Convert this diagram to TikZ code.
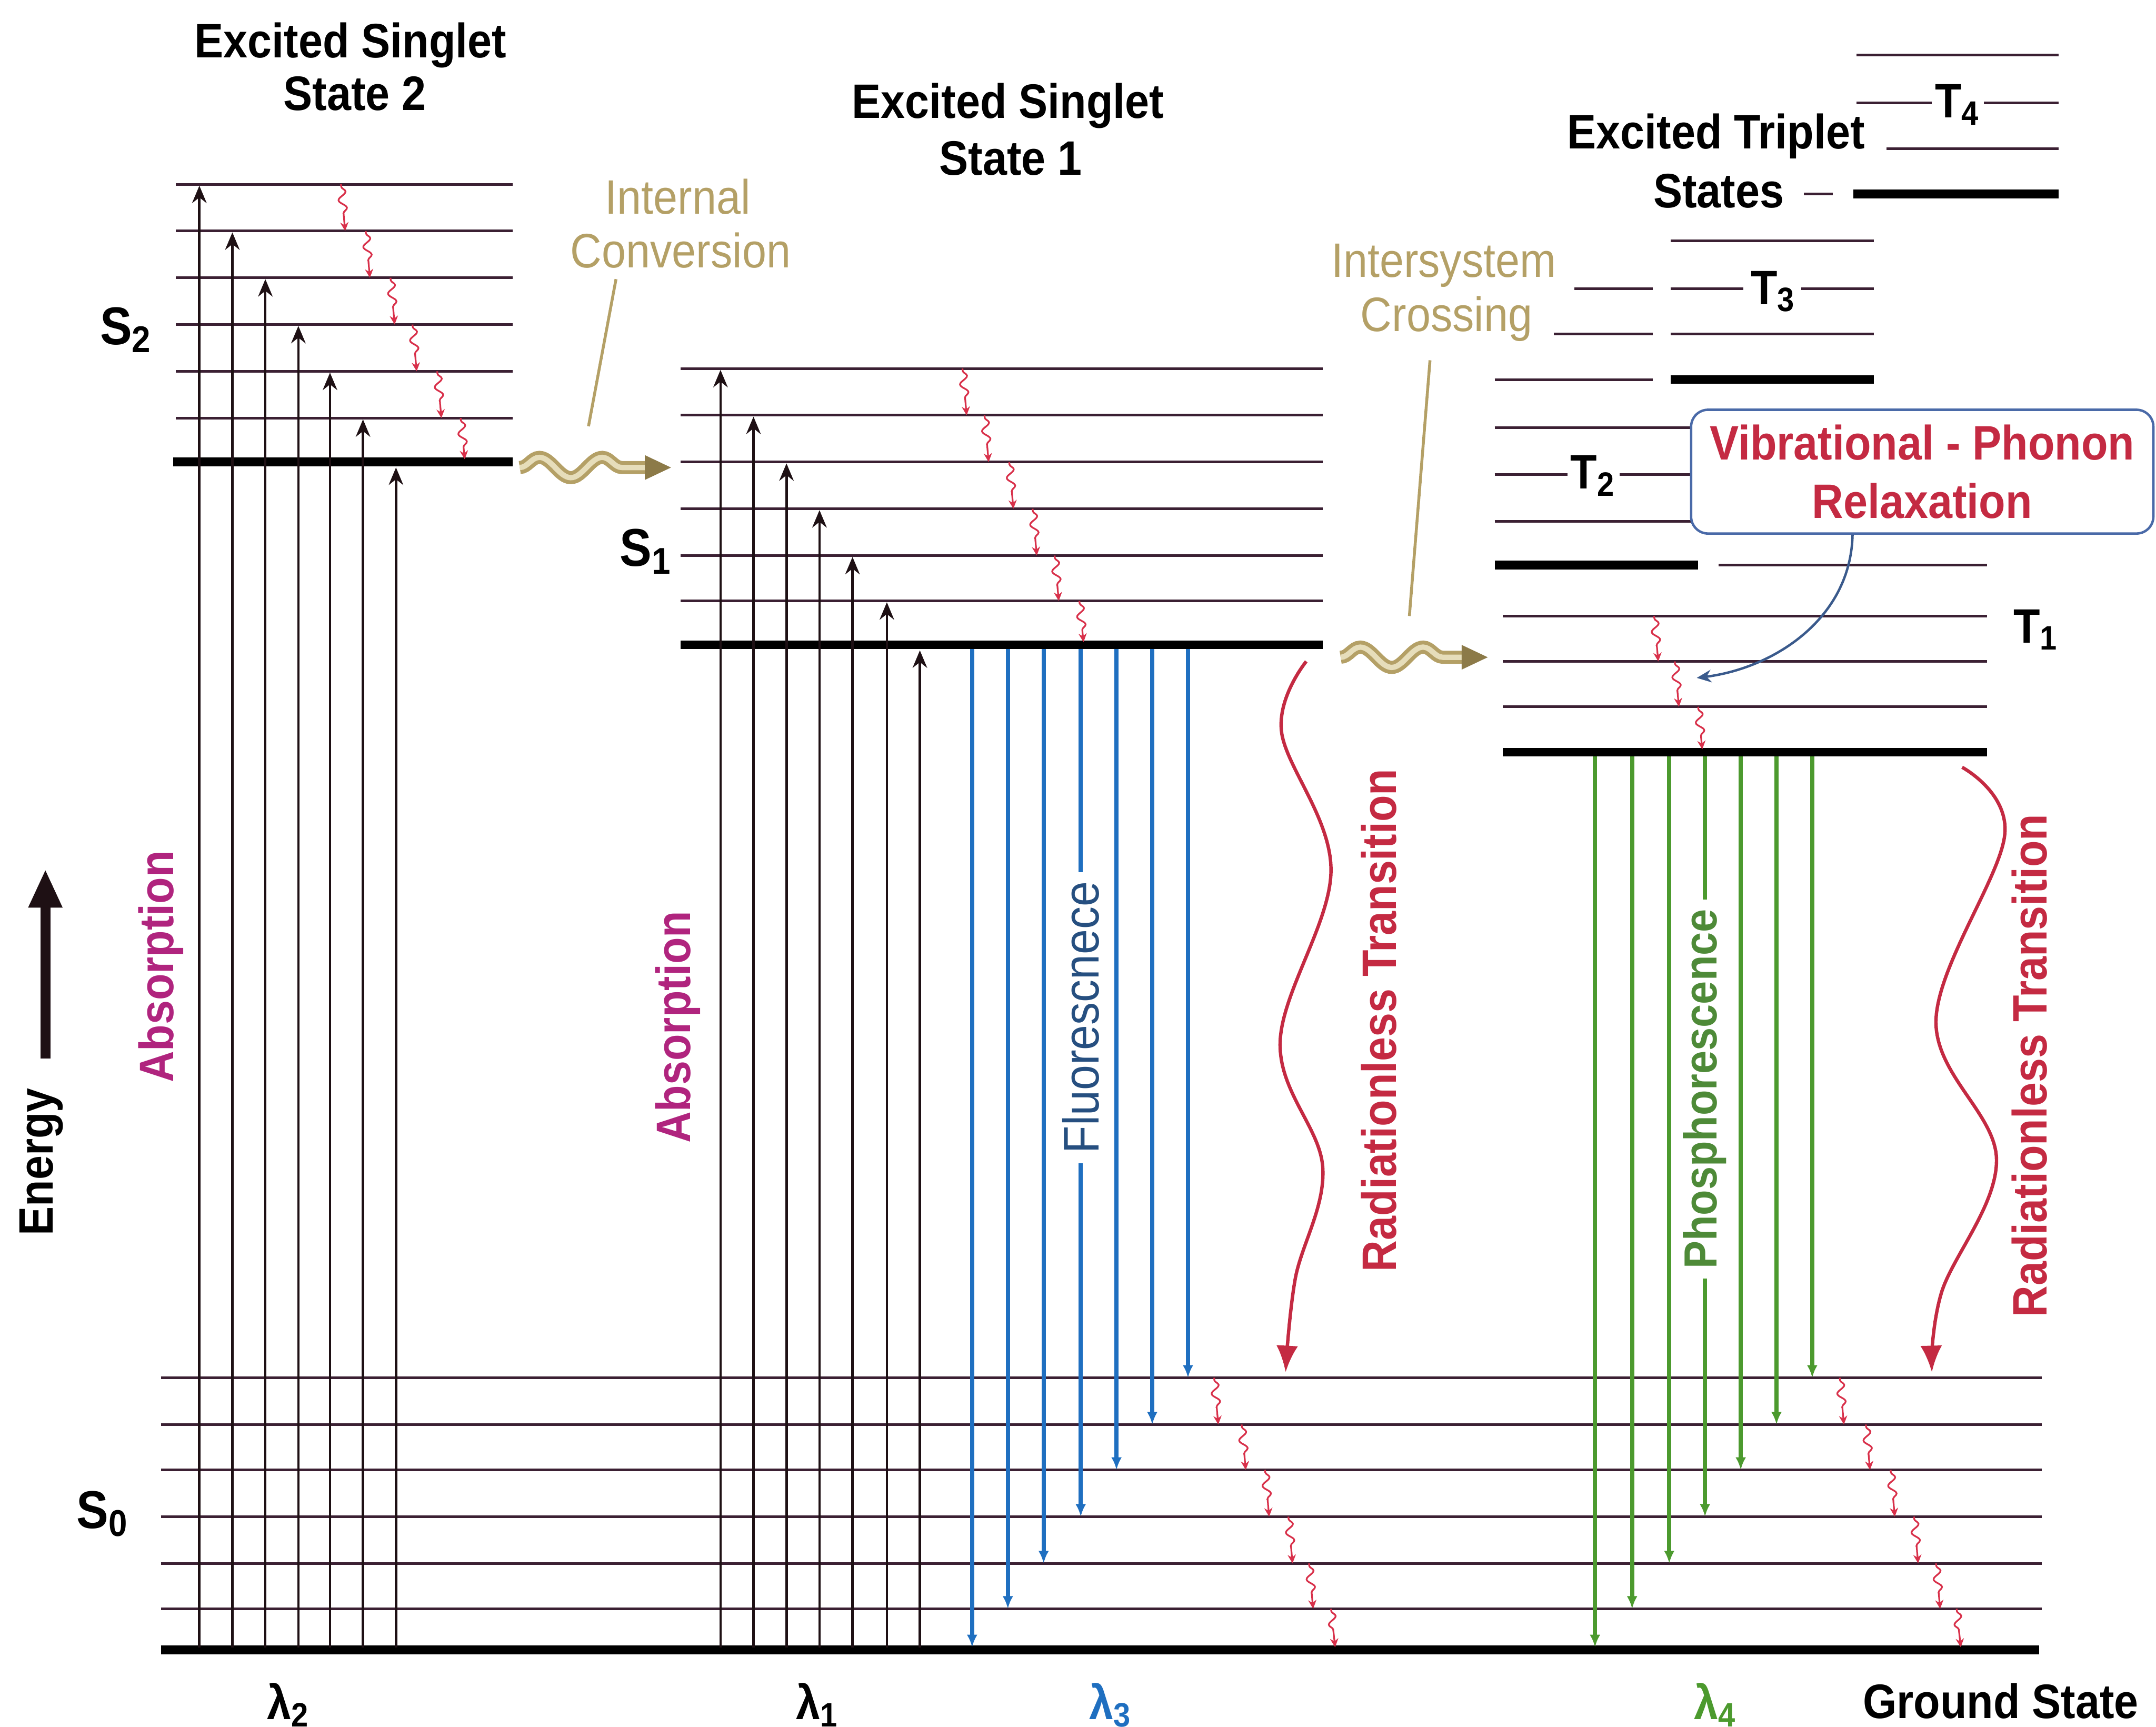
\documentclass[tikz,border=0pt]{standalone}
\usepackage{fontspec}
\setmainfont{Liberation Sans}[FakeStretch=0.9]
\usetikzlibrary{arrows.meta,decorations.pathmorphing,calc}

\begin{document}
\begin{tikzpicture}[x=0.01cm, y=-0.01cm,
        level/.style={draw=colLev, line width=0.55pt},
        base/.style={draw=black, line width=1.8pt},
        absorb/.style={draw=colArr, line width=0.5pt, -{Stealth[length=3.6pt, width=3pt]}},
        relax/.style={draw=colRed, line width=0.35pt, -{Stealth[length=1.8pt, width=1.7pt]},
            decorate, decoration={snake, amplitude=0.8pt, segment length=3.4pt, pre length=0.5pt, post length=2pt}},
        fluo/.style={draw=colBlue, line width=0.85pt, -{Latex[length=2.6pt, width=2.2pt]}},
        phos/.style={draw=colGreen, line width=0.85pt, -{Latex[length=2.6pt, width=2.2pt]}},
        radless/.style={draw=colRad, line width=0.7pt, -{Latex[length=5.5pt, width=4.5pt]}},
        crossing/.style={draw=colTan, line width=0.8pt, double=colTanL, double distance=1.1pt,
            decorate, decoration={snake, amplitude=2.1pt, segment length=13pt}},
        title/.style={font=\fontsize{10}{12}\selectfont\bfseries, inner sep=0pt},
        note/.style={font=\fontsize{10}{12}\selectfont, text=colTan, inner sep=0pt},
        statelab/.style={font=\fontsize{11}{12}\selectfont\bfseries, inner sep=0pt},
        vertlab/.style={font=\fontsize{10}{12}\selectfont\bfseries, rotate=90, inner sep=0pt}]
    \definecolor{colLev}{HTML}{3B2033}
    \definecolor{colArr}{HTML}{1E1014}
    \definecolor{colRed}{HTML}{D8304A}
    \definecolor{colRad}{HTML}{C42A42}
    \definecolor{colBlue}{HTML}{1F6FC0}
    \definecolor{colBlueT}{HTML}{264F80}
    \definecolor{colGreen}{HTML}{4C9A2E}
    \definecolor{colGreenT}{HTML}{4E8A38}
    \definecolor{colMag}{HTML}{B0247E}
    \definecolor{colTan}{HTML}{B4A066}
    \definecolor{colTanL}{HTML}{E6DDBA}
    \definecolor{colTanD}{HTML}{8C7A48}
    \definecolor{colBox}{HTML}{4A6AA8}
    \definecolor{colPtr}{HTML}{3A5A8C}

    \useasboundingbox (0,0) rectangle (1568,1256);

    % Ground state S0
    \foreach \y in {1002,1036,1069,1103,1137,1170} {
        \draw[level] (117,\y) -- (1485,\y);
    }
    \draw[base] (117,1200) -- (1483,1200);

    % Singlet S2
    \foreach \y in {134,168,202,236,270,304} {
        \draw[level] (128,\y) -- (373,\y);
    }
    \draw[base] (126,336) -- (373,336);

    % Singlet S1
    \foreach \y in {268,302,336,370,404,437} {
        \draw[level] (495,\y) -- (962,\y);
    }
    \draw[base] (495,469) -- (962,469);

    % Triplet ladders
    \foreach \xa/\xb/\y in {1350/1497/40, 1350/1405/75, 1443/1497/75, 1372/1497/108, 1312/1333/141,
                            1215/1363/175, 1145/1202/210, 1215/1268/210, 1310/1363/210,
                            1130/1202/243, 1215/1363/243, 1087/1202/276,
                            1087/1232/311, 1087/1140/345, 1178/1232/345, 1087/1232/379, 1250/1445/411,
                            1093/1445/448, 1093/1445/481, 1093/1445/514} {
        \draw[level] (\xa,\y) -- (\xb,\y);
    }
    \foreach \xa/\xb/\y in {1348/1497/141, 1215/1363/276, 1087/1235/411, 1093/1445/547} {
        \draw[base] (\xa,\y) -- (\xb,\y);
    }

    % Absorption
    \foreach \x/\y in {145/135, 169/169, 193/203, 217/237, 240/271, 264/305, 288/340} {
        \draw[absorb] (\x,1198) -- (\x,\y);
    }
    \foreach \x/\y in {524/269, 548/303, 572/337, 596/371, 620/405, 645/438, 669/473} {
        \draw[absorb] (\x,1198) -- (\x,\y);
    }

    % Vibrational relaxation
    \foreach \x/\ya/\yb in {248/134/168, 266/168/202, 284/202/236, 300/236/270, 318/270/304, 335/304/334,
                            700/268/302, 716/302/336, 734/336/370, 751/370/404, 767/404/437, 785/437/467,
                            1203/448/481, 1218/481/514, 1235/514/545,
                            883/1002/1036, 903/1036/1069, 920/1069/1103, 937/1103/1137, 952/1137/1170, 968/1170/1198,
                            1338/1002/1036, 1357/1036/1069, 1375/1069/1103, 1392/1103/1137, 1408/1137/1170, 1423/1170/1198} {
        \draw[relax] (\x,\ya) -- (\x+3,\yb);
    }

    % Fluorescence and phosphorescence
    \foreach \x/\y in {707/1198, 733/1170, 759/1137, 786/1103, 812/1069, 838/1036, 864/1002} {
        \draw[fluo] (\x,472) -- (\x,\y);
    }
    \foreach \x/\y in {1160/1198, 1187/1170, 1214/1137, 1240/1103, 1266/1069, 1292/1036, 1318/1002} {
        \draw[phos] (\x,550) -- (\x,\y);
    }

    % Radiationless transitions
    \draw[radless] plot[smooth, tension=0.6] coordinates
        {(950,481) (932,532) (968,633) (931,758) (962,849) (942,930) (935,998)};
    \draw[radless] plot[smooth, tension=0.6] coordinates
        {(1427,558) (1458,607) (1408,742) (1452,843) (1412,940) (1405,998)};

    % Internal conversion and intersystem crossing
    \draw[crossing] (378,340) -- (470,340);
    \fill[colTanD] (469,331) -- (488,340) -- (469,349) -- cycle;
    \draw[crossing] (975,478) -- (1064,478);
    \fill[colTanD] (1063,469) -- (1082,478) -- (1063,487) -- cycle;
    \coordinate (icTop) at (448,203);
    \coordinate (icEnd) at (428,310);
    \coordinate (iscTop) at (1040,262);
    \coordinate (iscEnd) at (1025,448);
    \draw[colTan, line width=0.6pt] (icTop) -- (icEnd);
    \draw[colTan, line width=0.6pt] (iscTop) -- (iscEnd);

    % Energy axis
    \draw[colArr, line width=2.1pt, -{Triangle[length=8pt, width=6.5pt]}] (33,770) -- (33,632);
    \node[vertlab] (energy) at (30,845) {Energy};

    % Titles
    \node[title] (titleS2a) at (255,33) {Excited Singlet};
    \node[title] (titleS2b) at (258,68) {State 2};
    \node[title] (titleS1a) at (733,77) {Excited Singlet};
    \node[title] (titleS1b) at (735,115) {State 1};
    \node[title] (titleT1) at (1248,99) {Excited Triplet};
    \node[title] (titleT2) at (1250,139) {States};
    \node[note] (icA) at (493,143) {Internal};
    \node[note] (icB) at (495,182) {Conversion};
    \node[note] (iscA) at (1050,193) {Intersystem};
    \node[note] (iscB) at (1052,232) {Crossing};

    % State labels
    \node[statelab] (labS2) at (92,240) {S\textsubscript{2}};
    \node[statelab] (labS1) at (470,401) {S\textsubscript{1}};
    \node[statelab] (labS0) at (75,1101) {S\textsubscript{0}};
    \node[title] (labT4) at (1424,76) {T\textsubscript{4}};
    \node[title] (labT3) at (1290,212) {T\textsubscript{3}};
    \node[title] (labT2) at (1159,346) {T\textsubscript{2}};
    \node[title] (labT1) at (1481,458) {T\textsubscript{1}};

    % Transition labels
    \node[vertlab, text=colMag] (abs2) at (117,703) {Absorption};
    \node[vertlab, text=colMag] (abs1) at (493,747) {Absorption};
    \node[vertlab, font=\fontsize{10.4}{12}\selectfont, text=colBlueT, fill=white, inner sep=2pt] (fluoLab) at (786,740) {Fluorescnece};
    \node[vertlab, font=\fontsize{9.6}{12}\selectfont\bfseries, text=colGreenT, fill=white, inner sep=2pt] (phosLab) at (1240,792) {Phosphorescence};
    \node[vertlab, text=colRad] (rad1) at (1003,742) {Radiationless Transition};
    \node[vertlab, text=colRad] (rad2) at (1476,775) {Radiationless Transition};

    % Wavelengths
    \node[title] (lam2) at (210,1240) {λ\textsubscript{2}};
    \node[title] (lam1) at (595,1240) {λ\textsubscript{1}};
    \node[title, text=colBlue] (lam3) at (808,1240) {λ\textsubscript{3}};
    \node[title, text=colGreen] (lam4) at (1248,1240) {λ\textsubscript{4}};
    \node[title] (ground) at (1455,1237) {Ground State};

    % Relaxation callout
    \node[title, text=colRad, draw=colBox, line width=0.5pt, fill=white, rounded corners=3.5pt,
          minimum width=95.6pt, minimum height=25.6pt, align=center] (callout) at (1398,343)
        {Vibrational - Phonon\\Relaxation};
    \coordinate (vpEnd) at (1234,493);
    \draw[colPtr, line width=0.5pt, -{Stealth[length=3pt, width=2.6pt]}]
        ($(callout.south west)!0.35!(callout.south east)$) .. controls (1346,450) and (1290,486) .. (vpEnd);
\end{tikzpicture}
\end{document}
